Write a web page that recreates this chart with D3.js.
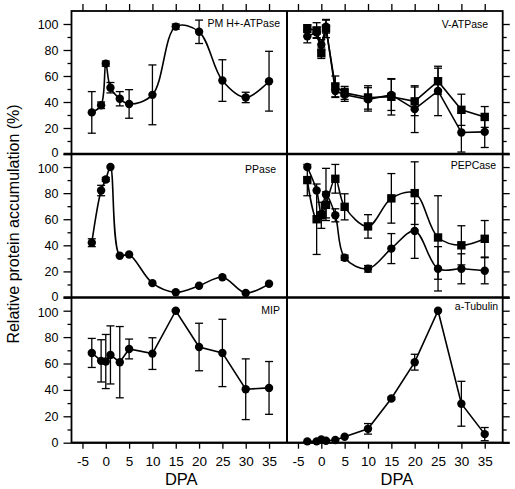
<!DOCTYPE html>
<html><head><meta charset="utf-8">
<script src="https://cdn.jsdelivr.net/npm/d3@7"></script>
<style>
body{margin:0;background:#fff}
svg{display:block}
text{font-family:"Liberation Sans",Arial,sans-serif;fill:#000}
</style>
</head><body>
<script>
// ---- data ----
const dpaTicks = [-5,0,5,10,15,20,25,30,35];
const yTicksMajor = [0,20,40,60,80,100];
const yTicksMinor = [10,30,50,70,90];
const dpa = [-3,-1,0,1,3,5,10,15,20,25,30,35];

const pmAtpase    = [32,37.5,69.5,51,42.5,38.5,45.5,98,94,56.5,43.5,56];
const pmAtpaseErr = [16,2.5,2,4,5.5,11,23,2,9,16,4,23];
const vAtpaseSq    = [96.5,95,77.5,96.5,52,47,43.5,44,40.5,56,34,28.5];
const vAtpaseSqErr = [3,6,4,7,8,5,9,14,11,10,12,8];
const vAtpaseCi    = [90.5,93.5,84,98,48.5,45.5,42,45.5,34.5,48.5,16.5,17];
const vAtpaseCiErr = [5,4,4,5,5,5,9,12,18,19,15,12];
const pPase    = [42,82,90.5,100,32,33,11,4,9,15.5,3.5,10.5];
const pPaseErr = [3,4,1.5,0,0,0,0,0,0,0,0,0];
const pepSq    = [90,60,63,71,91,69.5,54.5,76,80,46,40,45];
const pepSqErr = [12,27,10,10,11,10,9,19,24,32,15,14];
const pepCi    = [100,82,64,79,63,30.5,22,37.5,51,22,22,20.5];
const pepCiErr = [0,0,0,20,5,2,2.5,11.5,21,17,11.5,10];
const mip    = [68,62,61.5,66.5,61,71,67.5,100,72.5,68,40.5,41.5];
const mipErr = [11,16,20.5,22,27,7.5,12,0.5,18,25.5,23,20];
const tubulin    = [1,1,2.5,1.5,2,4.5,10.5,33.5,61,100,29.5,6.5];
const tubulinErr = [0,0,0,0,0,0,4,1,6,0,17,5];
const panelTitles = ["PM H+-ATPase","V-ATPase","PPase","PEPCase","MIP","a-Tubulin"];
const xTitle = "DPA";
const yTitle = "Relative protein accumulation (%)";

// ---- layout ----
const W = 515, H = 489;
const cols = [[71.5,287],[287,502.7]];
const rows = [11,154,297.5,442.7];
const xDomain = [-7.35,38.85];
const yDomain = [0,110];

const panels = [
  {col:0,row:0,title:0,tx:7,ty:16,series:[{v:pmAtpase,e:pmAtpaseErr,shape:"c",curve:"s"}]},
  {col:1,row:0,title:1,tx:14.5,ty:17,series:[{v:vAtpaseCi,e:vAtpaseCiErr,shape:"c",curve:"l"},{v:vAtpaseSq,e:vAtpaseSqErr,shape:"s",curve:"l"}]},
  {col:0,row:1,title:2,tx:11,ty:19,series:[{v:pPase,e:pPaseErr,shape:"c",curve:"s"}]},
  {col:1,row:1,title:3,tx:6.5,ty:15,series:[{v:pepSq,e:pepSqErr,shape:"s",curve:"s"},{v:pepCi,e:pepCiErr,shape:"c",curve:"s"}]},
  {col:0,row:2,title:4,tx:7,ty:16.5,series:[{v:mip,e:mipErr,shape:"c",curve:"l"}]},
  {col:1,row:2,title:5,tx:4.5,ty:12.5,series:[{v:tubulin,e:tubulinErr,shape:"c",curve:"l"}]}
];

const svg = d3.select("body").append("svg").attr("width",W).attr("height",H);

panels.forEach(p=>{
  const [x0,x1] = cols[p.col];
  const yTop = rows[p.row], yBot = rows[p.row+1];
  const x = d3.scaleLinear().domain(xDomain).range([x0,x1]);
  const y = d3.scaleLinear().domain(yDomain).range([yBot,yTop]);
  const g = svg.append("g");

  // axes
  if(p.col===0){
    g.append("g").attr("transform",`translate(${x0},0)`)
      .call(d3.axisLeft(y).tickValues(yTicksMinor).tickSize(4).tickFormat(""))
      .call(a=>a.select(".domain").remove()).selectAll("line").attr("stroke-width",1.3);
    g.append("g").attr("transform",`translate(${x0},0)`)
      .call(d3.axisLeft(y).tickValues(yTicksMajor).tickSize(8).tickPadding(5).tickFormat(d=>String(d)))
      .call(a=>a.select(".domain").remove())
      .call(a=>a.selectAll("text").style("font-size","12.5px").attr("font-family",null)
        .attr("y",d=> (d===0 && p.row<2) ? -1.5 : ((d===100 && p.row>0) ? 1.5 : 0)))
      .selectAll("line").attr("stroke-width",1.3);
  } else {
    g.append("g").attr("transform",`translate(${x1},0)`)
      .call(d3.axisRight(y).tickValues(yTicksMinor).tickSize(4).tickFormat(""))
      .call(a=>a.select(".domain").remove()).selectAll("line").attr("stroke-width",1.3);
    g.append("g").attr("transform",`translate(${x1},0)`)
      .call(d3.axisRight(y).tickValues(yTicksMajor).tickSize(7).tickFormat(""))
      .call(a=>a.select(".domain").remove()).selectAll("line").attr("stroke-width",1.3);
  }
  if(p.row===0){
    g.append("g").attr("transform",`translate(0,${yTop})`)
      .call(d3.axisTop(x).tickValues(dpaTicks).tickSize(7).tickFormat(""))
      .call(a=>a.select(".domain").remove()).selectAll("line").attr("stroke-width",1.3);
  }
  if(p.row===2){
    g.append("g").attr("transform",`translate(0,${yBot})`)
      .call(d3.axisBottom(x).tickValues(dpaTicks).tickSize(6).tickPadding(8).tickFormat(d=>String(d)))
      .call(a=>a.select(".domain").remove())
      .call(a=>a.selectAll("text").style("font-size","13.5px").attr("font-family",null))
      .selectAll("line").attr("stroke-width",1.3);
    svg.append("text").attr("x",(x0+x1)/2+2).attr("y",484.5).attr("text-anchor","middle")
      .style("font-size","16.5px").text(xTitle);
  }

  // series
  p.series.forEach(s=>{
    const pts = dpa.map((d,i)=>({x:d,v:s.v[i],e:s.e[i]}));
    const line = d3.line().x(d=>x(d.x)).y(d=>y(d.v))
      .curve(s.curve==="s" ? d3.curveCatmullRom.alpha(0.5) : d3.curveLinear);
    g.append("path").attr("d",line(pts)).attr("fill","none").attr("stroke","#000").attr("stroke-width",1.6);
    const eb = g.append("g").attr("stroke","#000").attr("stroke-width",1.3);
    pts.filter(d=>d.e>0).forEach(d=>{
      const cx = x(d.x), lo = y(Math.max(0,d.v-d.e)), hi = y(d.v+d.e);
      eb.append("line").attr("x1",cx).attr("x2",cx).attr("y1",lo).attr("y2",hi);
      eb.append("line").attr("x1",cx-4).attr("x2",cx+4).attr("y1",lo).attr("y2",lo);
      eb.append("line").attr("x1",cx-4).attr("x2",cx+4).attr("y1",hi).attr("y2",hi);
    });
    if(s.shape==="c"){
      g.selectAll(null).data(pts).enter().append("circle")
        .attr("cx",d=>x(d.x)).attr("cy",d=>y(d.v)).attr("r",4.2).attr("fill","#000");
    } else {
      g.selectAll(null).data(pts).enter().append("rect")
        .attr("x",d=>x(d.x)-4.2).attr("y",d=>y(d.v)-4.2).attr("width",8.4).attr("height",8.4).attr("fill","#000");
    }
  });

  g.append("text").attr("x",x1-p.tx).attr("y",yTop+p.ty).attr("text-anchor","end")
    .style("font-size","10.5px").text(panelTitles[p.title]);
});

// frame
const fr = svg.append("g").attr("stroke","#000").attr("fill","none");
fr.append("rect").attr("x",cols[0][0]).attr("y",rows[0]).attr("width",cols[1][1]-cols[0][0]).attr("height",rows[3]-rows[0]).attr("stroke-width",1.8);
fr.append("line").attr("x1",cols[0][1]).attr("x2",cols[0][1]).attr("y1",rows[0]).attr("y2",rows[3]).attr("stroke-width",2);
[rows[1],rows[2]].forEach(r=>{
  fr.append("line").attr("x1",cols[0][0]-8).attr("x2",cols[1][1]+7).attr("y1",r).attr("y2",r).attr("stroke-width",2.6);
});
fr.append("line").attr("x1",cols[0][0]).attr("x2",cols[1][1]+7).attr("y1",rows[3]).attr("y2",rows[3]).attr("stroke-width",2);

svg.append("text").attr("transform",`translate(19,224) rotate(-90)`).attr("text-anchor","middle")
  .style("font-size","16px").text(yTitle);
</script>
</body></html>
